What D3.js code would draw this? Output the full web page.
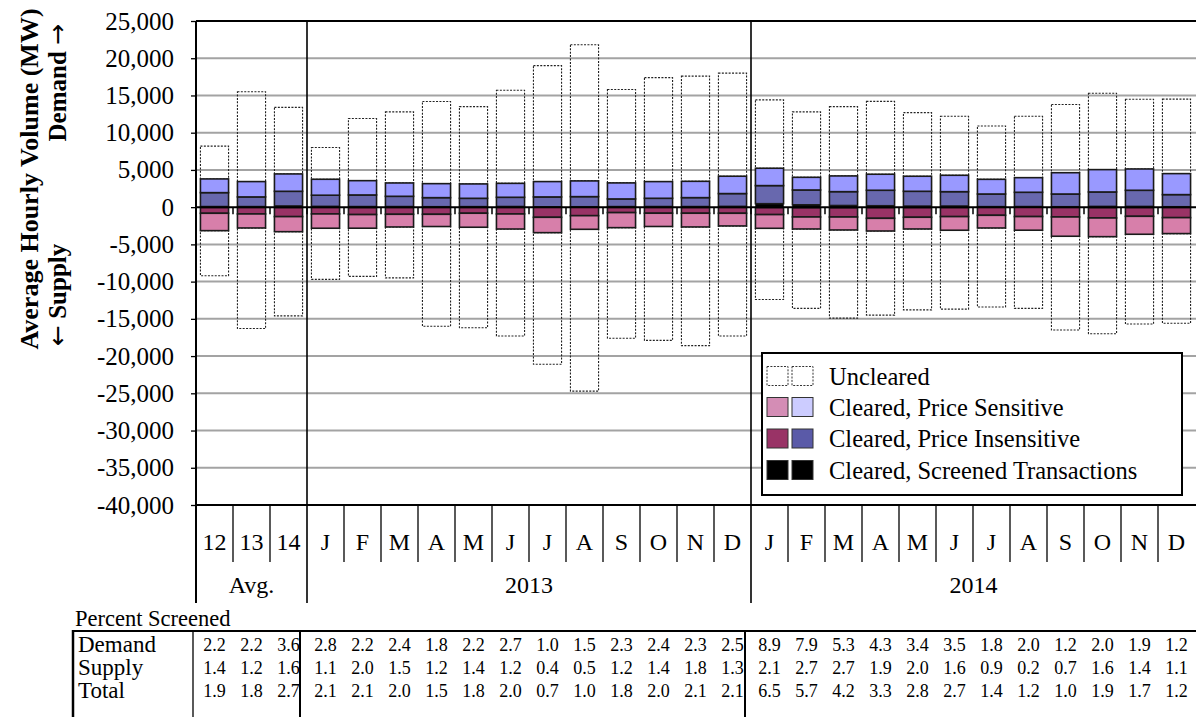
<!DOCTYPE html>
<html><head><meta charset="utf-8">
<script src="https://cdn.jsdelivr.net/npm/d3@7"></script>
<style>
body{margin:0;background:#fff;}
svg text{font-family:"Liberation Serif","Times New Roman",serif;fill:#000;}
</style></head>
<body><svg id="chart" width="1196" height="717"></svg>
<script>
// ---------- DATA ----------
const categories = ["12","13","14","J","F","M","A","M","J","J","A","S","O","N","D","J","F","M","A","M","J","J","A","S","O","N","D"];
const groupLabels = ["Avg.","2013","2014"];
const groupSizes = [3,12,12];

// Demand (MW, positive)
const demandScreened    = [80,75,160,105,78,78,57,69,86,34,53,75,82,80,104,465,317,222,190,141,150,67,79,56,101,97,54];
const demandInsensitive = [1870,1300,1970,1500,1560,1380,1220,1120,1240,1340,1360,1030,1110,1200,1720,2430,1990,1860,2080,1990,1930,1700,1920,1710,1940,2170,1630];
const demandSensitive   = [1840,2060,2330,2140,1920,1790,1880,1930,1870,2060,2110,2150,2240,2190,2330,2330,1700,2110,2150,2020,2200,1970,1960,2860,3000,2860,2820];
const demandUncleared   = [4410,12070,8940,4260,8340,9550,11040,10380,12500,15570,18280,12550,13970,14130,13850,9180,8790,9310,9780,8550,7920,7160,8240,9170,10260,9370,10000];

// Supply (MW, plotted below zero)
const supplyScreened    = [44,33,53,31,57,40,31,38,35,14,15,33,36,48,33,60,79,83,61,59,50,25,6,27,63,51,39];
const supplyInsensitive = [780,880,1220,880,940,920,930,780,880,1350,1130,700,780,770,790,940,1240,1240,1440,1300,1220,1070,1260,1290,1390,1180,1370];
const supplySensitive   = [2330,1880,2020,1920,1830,1700,1640,1880,2020,2060,1830,2020,1780,1840,1700,1840,1610,1740,1700,1570,1830,1700,1830,2590,2510,2410,2140];
const supplyUncleared   = [6050,13510,11310,6870,6470,6840,13400,13500,14370,17680,21730,14850,15300,15940,14780,9560,10670,11840,11300,10870,10600,10610,10500,12590,13040,12060,12050];

const yTickValues = [25000,20000,15000,10000,5000,0,-5000,-10000,-15000,-20000,-25000,-30000,-35000,-40000];

const tableRows = ["Demand","Supply","Total"];
const demandPct = ["2.2","2.2","3.6","2.8","2.2","2.4","1.8","2.2","2.7","1.0","1.5","2.3","2.4","2.3","2.5","8.9","7.9","5.3","4.3","3.4","3.5","1.8","2.0","1.2","2.0","1.9","1.2"];
const supplyPct = ["1.4","1.2","1.6","1.1","2.0","1.5","1.2","1.4","1.2","0.4","0.5","1.2","1.4","1.8","1.3","2.1","2.7","2.7","1.9","2.0","1.6","0.9","0.2","0.7","1.6","1.4","1.1"];
const totalPct  = ["1.9","1.8","2.7","2.1","2.1","2.0","1.5","1.8","2.0","0.7","1.0","1.8","2.0","2.1","2.1","6.5","5.7","4.2","3.3","2.8","2.7","1.4","1.2","1.0","1.9","1.7","1.2"];

const legendLabels = ["Uncleared","Cleared, Price Sensitive","Cleared, Price Insensitive","Cleared, Screened Transactions"];

// ---------- STYLE ----------
const C = {
  demSens:"#9999FF", demIns:"#6868AE", supSens:"#D77FAA", supIns:"#993366", scr:"#000000",
  legDemSens:"#CCCCFF", legDemIns:"#5A5AA8", legSupSens:"#D48DB5", legSupIns:"#993366"
};
const L = 196, R = 1196, T = 21, B = 505;

const svg = d3.select("#chart");
const y = d3.scaleLinear().domain([-40000,25000]).range([B,T]);
const x = d3.scaleBand().domain(d3.range(categories.length)).range([L,1195]).paddingInner(0.24).paddingOuter(0.12);
const step = x.step();
const boundary = i => x(i) - step*x.paddingInner()/2;

// gridlines
svg.append("g").selectAll("line").data(yTickValues.filter(v=>v!==25000 && v!==0 && v!==-40000)).join("line")
  .attr("x1",L).attr("x2",R).attr("y1",d=>y(d)).attr("y2",d=>y(d))
  .attr("stroke","#A3A3A3").attr("stroke-width",2);

// stacked bars
function stackSeg(arrs, sign){
  const out=[];
  categories.forEach((c,i)=>{
    let acc=0;
    arrs.forEach((a,k)=>{ out.push({i,k,v0:acc*sign,v1:(acc+a[i])*sign}); acc+=a[i]; });
  });
  return out;
}
const demSegs = stackSeg([demandScreened,demandInsensitive,demandSensitive,demandUncleared],1);
const supSegs = stackSeg([supplyScreened,supplyInsensitive,supplySensitive,supplyUncleared],-1);
const demFill = [C.scr,C.demIns,C.demSens,"none"];
const supFill = [C.scr,C.supIns,C.supSens,"none"];

function drawSegs(segs, fills){
  const g = svg.append("g");
  g.selectAll("rect.u").data(segs.filter(s=>s.k===3)).join("rect").attr("class","u")
    .attr("x",d=>x(d.i)).attr("width",x.bandwidth())
    .attr("y",d=>Math.min(y(d.v0),y(d.v1))).attr("height",d=>Math.abs(y(d.v0)-y(d.v1)))
    .attr("fill","none").attr("stroke","#222").attr("stroke-width",1.1).attr("stroke-dasharray","2,1.4");
  g.selectAll("rect.c").data(segs.filter(s=>s.k!==3)).join("rect").attr("class","c")
    .attr("x",d=>x(d.i)).attr("width",x.bandwidth())
    .attr("y",d=>Math.min(y(d.v0),y(d.v1))).attr("height",d=>Math.abs(y(d.v0)-y(d.v1)))
    .attr("fill",d=>fills[d.k]).attr("stroke","#1a1a1a").attr("stroke-width",d=>d.k===0?0.5:1.6);
}
drawSegs(demSegs,demFill);
drawSegs(supSegs,supFill);

// zero line and ticks
const y0 = y(0);
svg.append("line").attr("x1",L).attr("x2",R).attr("y1",y0).attr("y2",y0).attr("stroke","#000").attr("stroke-width",2);
svg.append("g").selectAll("line").data(d3.range(1,categories.length)).join("line")
  .attr("x1",d=>boundary(d)).attr("x2",d=>boundary(d)).attr("y1",y0).attr("y2",y0+7)
  .attr("stroke","#000").attr("stroke-width",1.5);

// frame
svg.append("line").attr("x1",L).attr("x2",R).attr("y1",T).attr("y2",T).attr("stroke","#000").attr("stroke-width",2);
svg.append("line").attr("x1",L).attr("x2",R).attr("y1",B).attr("y2",B).attr("stroke","#000").attr("stroke-width",2);

// group separators
const groupStarts = [0]; groupSizes.forEach((s,k)=>{ if(k<groupSizes.length-1) groupStarts.push(groupStarts[k]+s); });
svg.append("g").selectAll("line").data(groupStarts).join("line")
  .attr("x1",d=>boundary(d)).attr("x2",d=>boundary(d)).attr("y1",T).attr("y2",603)
  .attr("stroke","#000").attr("stroke-width",d=>d===0?2:1.6);
svg.append("g").selectAll("line").data(d3.range(1,categories.length).filter(i=>!groupStarts.includes(i))).join("line")
  .attr("x1",d=>boundary(d)).attr("x2",d=>boundary(d)).attr("y1",B).attr("y2",562)
  .attr("stroke","#000").attr("stroke-width",1.3);

// y axis
const yAxis = d3.axisLeft(y).tickValues(yTickValues).tickSize(5).tickPadding(17)
  .tickFormat(d=>d3.format(",")(d).replace("\u2212","-"));
const ya = svg.append("g").attr("transform",`translate(${L},0)`).call(yAxis);
ya.select(".domain").remove();
ya.selectAll("text").style("font-family",'"Liberation Serif","Times New Roman",serif').style("font-size","25px").attr("fill","#000");
ya.selectAll("line").attr("stroke","#000").attr("stroke-width",1.3);

// y axis title
const yt = svg.append("g").attr("transform","translate(0,179) rotate(-90)");
yt.append("text").attr("x",0).attr("y",38).attr("text-anchor","middle").style("font-weight","bold").style("font-size","26px")
  .text("Average Hourly Volume (MW)");
const t2 = yt.append("text").attr("x",-167).attr("y",66).attr("text-anchor","start").style("font-weight","bold").style("font-size","25px");
t2.append("tspan").style("font-family","DejaVu Sans").style("font-weight","normal").text("\u2190");
t2.append("tspan").text(" Supply");
const t3 = yt.append("text").attr("x",155).attr("y",66).attr("text-anchor","end").style("font-weight","bold").style("font-size","25px");
t3.append("tspan").text("Demand ");
t3.append("tspan").style("font-family","DejaVu Sans").style("font-weight","normal").text("\u2192");

// category labels
svg.append("g").selectAll("text").data(categories).join("text")
  .attr("x",(d,i)=>x(i)+x.bandwidth()/2).attr("y",550).attr("text-anchor","middle").style("font-size","24px").text(d=>d);
svg.append("g").selectAll("text").data(groupLabels).join("text")
  .attr("x",(d,k)=>(boundary(groupStarts[k]) + (k<groupLabels.length-1?boundary(groupStarts[k+1]):R))/2)
  .attr("y",593).attr("text-anchor","middle").style("font-size","24px").text(d=>d);

// legend
const lg = svg.append("g");
lg.append("rect").attr("x",762).attr("y",353).attr("width",420).attr("height",142).attr("fill","#fff").attr("stroke","#000").attr("stroke-width",2);
const rowsY = [376,407,438.5,470];
const swFills = [["none","none"],[C.legSupSens,C.legDemSens],[C.legSupIns,C.legDemIns],["#000","#000"]];
legendLabels.forEach((lab,r)=>{
  [767,792].forEach((sx,j)=>{
    const rr = lg.append("rect").attr("x",sx).attr("y",rowsY[r]-9.5).attr("width",21).attr("height",19)
      .attr("fill",swFills[r][j]==="none"?"#fff":swFills[r][j]);
    if(r===0) rr.attr("stroke","#333").attr("stroke-width",1).attr("stroke-dasharray","2,1.4");
    else rr.attr("stroke","#333").attr("stroke-width",1);
  });
  lg.append("text").attr("x",829).attr("y",rowsY[r]).attr("dy","0.35em").style("font-size","24.5px").text(lab);
});

// table
const tg = svg.append("g");
tg.append("text").attr("x",75).attr("y",626).style("font-size","22.5px").text("Percent Screened");
tg.append("line").attr("x1",72).attr("x2",R).attr("y1",631).attr("y2",631).attr("stroke","#000").attr("stroke-width",2);
tg.append("line").attr("x1",73).attr("x2",73).attr("y1",630).attr("y2",717).attr("stroke","#000").attr("stroke-width",2.5);
tg.append("line").attr("x1",193).attr("x2",193).attr("y1",631).attr("y2",717).attr("stroke","#000").attr("stroke-width",1.3);
[300,745].forEach(xx=>tg.append("line").attr("x1",xx).attr("x2",xx).attr("y1",631).attr("y2",717).attr("stroke","#000").attr("stroke-width",2));
const rowY = [652,675,698];
const pctData = [demandPct,supplyPct,totalPct];
tableRows.forEach((lab,r)=>{
  tg.append("text").attr("x",78).attr("y",rowY[r]).style("font-size","23px").text(lab);
  tg.append("g").selectAll("text").data(pctData[r]).join("text")
    .attr("x",(d,i)=>x(i)+x.bandwidth()/2).attr("y",rowY[r]-1).attr("text-anchor","middle").style("font-size","18px").text(d=>d);
});
</script>
</body></html>
